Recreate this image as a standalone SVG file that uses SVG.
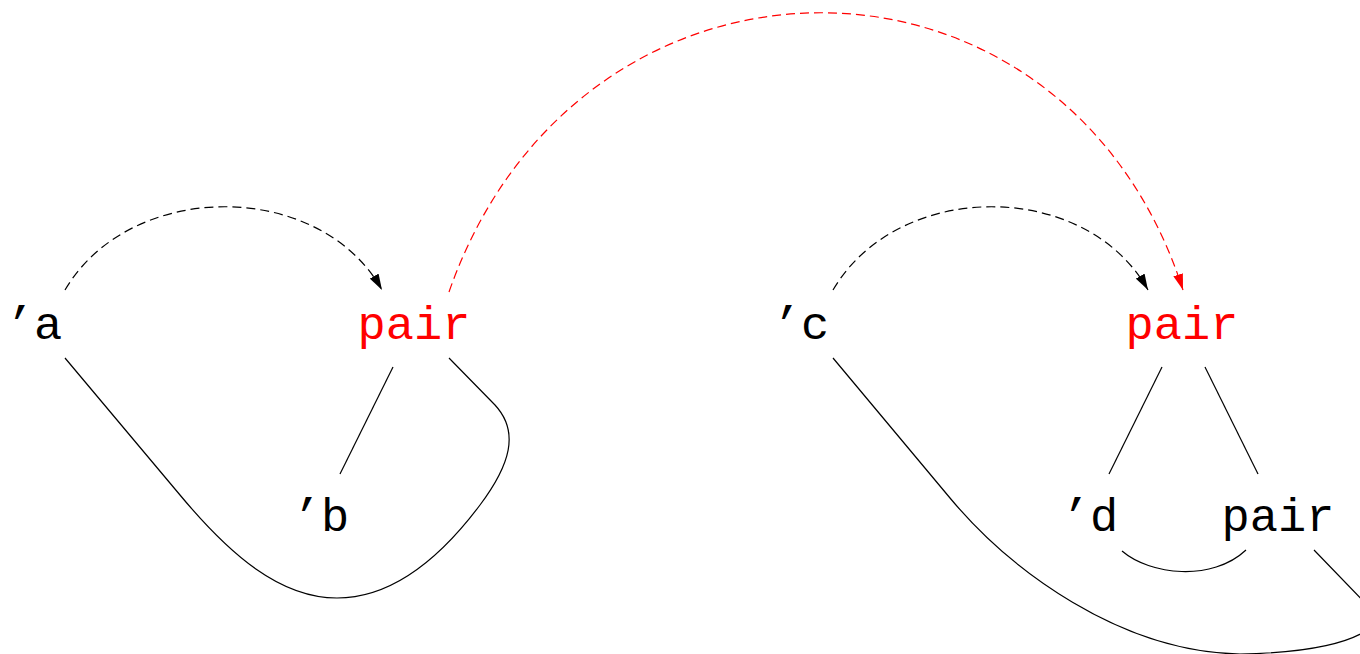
<svg xmlns="http://www.w3.org/2000/svg" width="1360" height="654" viewBox="0 0 1360 654">
  <style>
    .lbl { font-family: "Liberation Mono", "DejaVu Sans Mono", monospace; font-size: 47px; text-anchor: middle; fill: #000; }
    .red { fill: #ff0000; }
    .edge { fill: none; stroke: #000; stroke-width: 1.2; }
    .dash { fill: none; stroke: #000; stroke-width: 1.2; stroke-dasharray: 9 5; }
    .dashred { fill: none; stroke: #ff0000; stroke-width: 1.2; stroke-dasharray: 9 5; }
  </style>
  <defs>
    <marker id="ahB" markerWidth="17" markerHeight="10" refX="16" refY="5" orient="auto" markerUnits="userSpaceOnUse">
      <path d="M0,0 L16,5 L0,10 Z" fill="#000"/>
    </marker>
    <marker id="ahR" markerWidth="17" markerHeight="10" refX="16" refY="5" orient="auto" markerUnits="userSpaceOnUse">
      <path d="M0,0 L16,5 L0,10 Z" fill="#ff0000"/>
    </marker>
  </defs>
  <rect width="1360" height="654" fill="#fff"/>
  <g id="connectors">
    <path class="dash" d="M65,290 C130,179 320,179 382,290" marker-end="url(#ahB)"/>
    <path class="dash" d="M833,290 C898,179 1086,179 1148,290" marker-end="url(#ahB)"/>
    <path class="dashred" d="M449,292 C579,-80 1064,-80 1183,290" marker-end="url(#ahR)"/>
    <path class="edge" d="M393,367 L340,474"/>
    <path class="edge" d="M65,358 L180,495 C230,555 280,598 337,598 C400,598 450,545 480,505 C510,465 520,432 495,405 L449,358"/>
    <path class="edge" d="M1162,367 L1109,474"/>
    <path class="edge" d="M1205,367 L1258,474"/>
    <path class="edge" d="M1122,551 C1150,575 1212,582 1246,550"/>
    <path class="edge" d="M833,358 L950,498 C1010,570 1120,652 1240,654 C1310,653 1355,642 1372,626 C1385,614 1378,612 1367,605 L1314,550"/>
  </g>
  <g id="n_a"><text class="lbl" x="34" y="339">’a</text></g>
  <g id="n_pair1"><text class="lbl red" x="414" y="339">pair</text></g>
  <g id="n_b"><text class="lbl" x="321" y="531">’b</text></g>
  <g id="n_c"><text class="lbl" x="801" y="339">’c</text></g>
  <g id="n_pair2"><text class="lbl red" x="1182" y="339">pair</text></g>
  <g id="n_d"><text class="lbl" x="1090" y="531">’d</text></g>
  <g id="n_pair3"><text class="lbl" x="1278" y="531">pair</text></g>
</svg>
